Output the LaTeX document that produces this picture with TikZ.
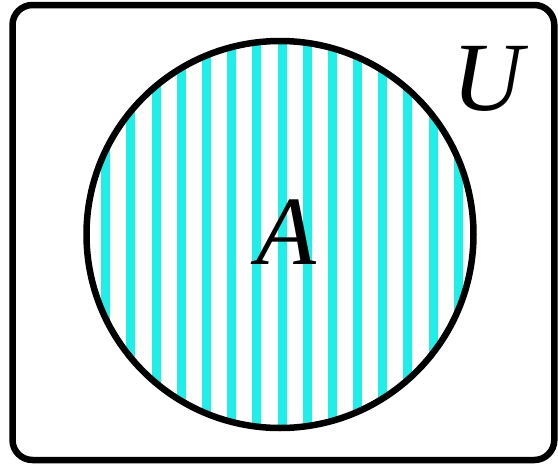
\documentclass[tikz,border=0pt]{standalone}
\usepackage{fontspec}
\setmainfont{Liberation Serif}
\definecolor{stripe}{RGB}{32,238,232}
\begin{document}
\begin{tikzpicture}[x=1pt,y=-1pt,
  outline/.style={draw=black,line width=6.5pt},
  setlabel/.style={font=\fontsize{98}{98}\selectfont\itshape,inner sep=0pt}]
\useasboundingbox (0,0) rectangle (558,464);
\fill[white] (0,0) rectangle (558,464);
\begin{scope}
  \clip (280,234.5) circle (193.5);
  \foreach \k in {-7,...,7}
    \fill[stripe] ({282+25.19*\k-4.5},30) rectangle ({282+25.19*\k+4.5},440);
\end{scope}
\node[outline,rounded corners=20pt,minimum width=541.8pt,minimum height=455pt,inner sep=0pt] (U) at (283.4,232.5) {};
\node[outline,circle,minimum size=387pt,inner sep=0pt] (A) at (280,234.5) {};
\node[setlabel] (la) at (286,232) {A};
\node[setlabel] (lu) at (488,79) {U};
\end{tikzpicture}
\end{document}
